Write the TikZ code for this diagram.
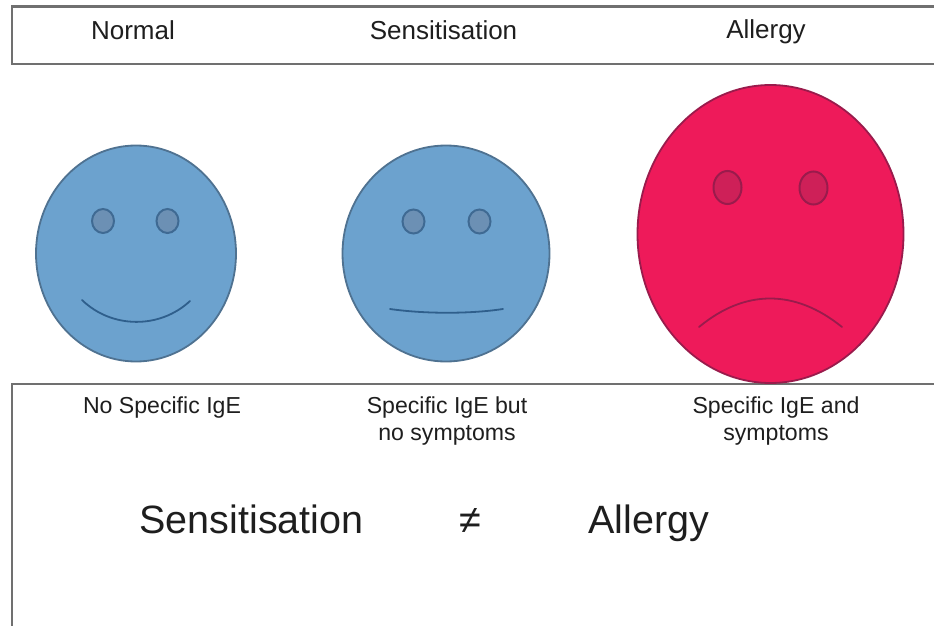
\documentclass[tikz,border=0pt]{standalone}
\usepackage{fontspec}
\setmainfont{Liberation Sans}
\definecolor{faceblue}{HTML}{6CA2CE}
\definecolor{faceedge}{HTML}{4F7291}
\definecolor{eyeblue}{HTML}{6C90B4}
\definecolor{eyeedge}{HTML}{3F6A93}
\definecolor{mouthblue}{HTML}{2F5F8C}
\definecolor{facered}{HTML}{EE1A5A}
\definecolor{rededge}{HTML}{9A1B4C}
\definecolor{eyered}{HTML}{CE2058}
\definecolor{boxline}{HTML}{707070}
\definecolor{ink}{HTML}{1E1E1E}
\usetikzlibrary{shapes.geometric}
\tikzset{
  bluefaceshape/.style={ellipse,draw=faceedge,fill=faceblue,line width=1.8pt,inner sep=0pt},
  redfaceshape/.style={ellipse,draw=rededge,fill=facered,line width=1.8pt,inner sep=0pt},
  blueeye/.style={ellipse,draw=eyeedge,fill=eyeblue,line width=2pt,inner sep=0pt,minimum width=22pt,minimum height=24pt},
  redeye/.style={ellipse,draw=rededge,fill=eyered,line width=2pt,inner sep=0pt,minimum width=28pt,minimum height=33pt},
  bluemouth/.style={draw=mouthblue,line width=1.8pt,line cap=round},
  redmouth/.style={draw=rededge,line width=1.8pt,line cap=round},
  rule/.style={draw=boxline,line width=2.2pt},
  heading/.style={text=ink,font=\fontsize{26}{29}\selectfont,inner sep=0pt},
  caption/.style={text=ink,font=\fontsize{23.1}{27}\selectfont,align=center,inner sep=0pt},
  bigword/.style={text=ink,font=\fontsize{39.5}{44}\selectfont,inner sep=0pt,anchor=base}
}
\begin{document}
\begin{tikzpicture}[x=1pt,y=-1pt]
\useasboundingbox (0,0) rectangle (934,626);
\fill[white] (0,0) rectangle (934,626);
% boxes
\draw[rule] (934,6.5) -- (12,6.5) -- (12,64);
\draw[rule,line width=2.6pt] (11,64) -- (934,64);
\draw[rule] (934,384) -- (12,384) -- (12,626);
% faces
\node[bluefaceshape,minimum width=200pt,minimum height=216pt] (f1) at (136,253.5) {};
\node[bluefaceshape,minimum width=207pt,minimum height=216pt] (f2) at (446,253.5) {};
\node[redfaceshape,minimum width=266pt,minimum height=298pt] (f3) at (770.5,234) {};
% eyes
\node[blueeye] (e1a) at (103,221) {};
\node[blueeye] (e1b) at (167.5,221) {};
\node[blueeye] (e2a) at (413.5,221.5) {};
\node[blueeye] (e2b) at (479.5,221.5) {};
\node[redeye] (e3a) at (727.5,187.5) {};
\node[redeye] (e3b) at (813.5,188) {};
% mouths
\draw[bluemouth] (82,300) .. controls (112,329) and (160,329) .. (190,301);
\draw[bluemouth] (390,309) .. controls (425,314) and (470,314) .. (503,309);
\draw[redmouth] (699,327) .. controls (745,289) and (795,289) .. (842,327);
% headings
\node[heading] (h1) at (133,30) {Normal};
\node[heading] (h2) at (443.5,30) {Sensitisation};
\node[heading] (h3) at (766,31.5) {Allergy};
% captions
\node[caption,anchor=north] (c1) at (162,397) {No Specific IgE};
\node[caption,anchor=north] (c2) at (447,397) {Specific IgE but\\no symptoms};
\node[caption,anchor=north] (c3) at (776,397) {Specific IgE and\\symptoms};
% bottom statement
\node[bigword] (w1) at (251.5,533) {Sensitisation};
\node[bigword] (w2) at (470,533) {≠};
\node[bigword] (w3) at (649,533) {Allergy};
\end{tikzpicture}
\end{document}
